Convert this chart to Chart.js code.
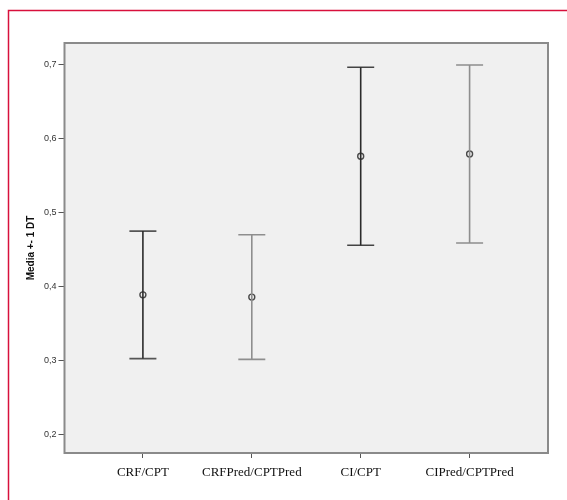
<!DOCTYPE html>
<html>
<head>
<meta charset="utf-8">
<script src="https://cdn.jsdelivr.net/npm/chart.js@4/dist/chart.umd.min.js"></script>
<style>
  html, body { margin: 0; padding: 0; background: #ffffff; }
  #wrap { width: 567px; height: 500px; position: relative; }
</style>
</head>
<body>
<div id="wrap"><canvas id="c" width="567" height="500"></canvas></div>
<script>
// Ratios: mean and one standard deviation per group
const categories = ['CRF/CPT', 'CRFPred/CPTPred', 'CI/CPT', 'CIPred/CPTPred'];
const means = [0.389, 0.386, 0.576, 0.579];
const sds = [0.086, 0.084, 0.120, 0.120];
const yTicks = [0.2, 0.3, 0.4, 0.5, 0.6, 0.7];

const stemColors = ['#2b2b2b', '#8e8e8e', '#2b2b2b', '#8e8e8e'];
const capColors = ['#555555', '#8e8e8e', '#444444', '#8e8e8e'];

const datasets = [];
categories.forEach((name, i) => {
  const x = i + 1;
  const lo = means[i] - sds[i];
  const hi = means[i] + sds[i];
  // vertical whisker
  datasets.push({
    type: 'scatter', showLine: true,
    data: [{ x: x, y: lo }, { x: x, y: hi }],
    borderColor: stemColors[i], borderWidth: 1.6,
    pointRadius: 0, pointHoverRadius: 0
  });
  // horizontal caps
  datasets.push({
    type: 'scatter',
    data: [{ x: x, y: lo }, { x: x, y: hi }],
    pointStyle: 'line', pointRadius: 13.5, pointHoverRadius: 13.5,
    borderColor: capColors[i], borderWidth: 1.6, backgroundColor: capColors[i]
  });
  // mean marker
  datasets.push({
    type: 'scatter',
    data: [{ x: x, y: means[i] }],
    pointStyle: 'circle', pointRadius: 3, pointHoverRadius: 3,
    borderColor: '#4a4a4a', borderWidth: 1.4, backgroundColor: '#f0f0f0'
  });
});

// plot panel background + frame, and the outer page frame
const panelPlugin = {
  id: 'panel',
  beforeDatasetsDraw(chart) {
    const { ctx, chartArea: a } = chart;
    ctx.save();
    ctx.fillStyle = '#f0f0f0';
    ctx.fillRect(a.left, a.top, a.right - a.left, a.bottom - a.top);
    ctx.restore();
  },
  afterDatasetsDraw(chart) {
    const { ctx, chartArea: a } = chart;
    ctx.save();
    ctx.strokeStyle = '#8a8a8a';
    ctx.lineWidth = 2;
    ctx.strokeRect(a.left, a.top, a.right - a.left, a.bottom - a.top);
    ctx.strokeStyle = '#d8103c';
    ctx.lineWidth = 1.5;
    ctx.beginPath();
    ctx.moveTo(8.5, 500);
    ctx.lineTo(8.5, 10.5);
    ctx.lineTo(567, 10.5);
    ctx.stroke();
    ctx.restore();
  }
};

new Chart(document.getElementById('c'), {
  type: 'scatter',
  data: { datasets },
  plugins: [panelPlugin],
  options: {
    responsive: false,
    animation: false,
    layout: { padding: { top: 43, right: 19, left: 0, bottom: 0 } },
    plugins: { legend: { display: false }, tooltip: { enabled: false } },
    scales: {
      x: {
        type: 'linear',
        min: 0.28, max: 4.72,
        afterBuildTicks(s) { s.ticks = categories.map((_, i) => ({ value: i + 1 })); },
        afterFit(s) { s.height = 47; },
        border: { display: false },
        grid: { drawOnChartArea: false, tickLength: 5, color: '#555555', lineWidth: 1 },
        ticks: {
          padding: 7, color: '#111111', maxRotation: 0, autoSkip: false,
          font: { family: '"Liberation Serif", "Times New Roman", serif', size: 13 },
          callback: (v) => categories[Math.round(v) - 1] || ''
        }
      },
      y: {
        type: 'linear',
        min: 0.1757, max: 0.7287,
        afterBuildTicks(s) { s.ticks = yTicks.map(v => ({ value: v })); },
        afterFit(s) { s.width = 64.5; },
        border: { display: false },
        grid: { drawOnChartArea: false, tickLength: 6, color: '#555555', lineWidth: 1 },
        ticks: {
          padding: 2, color: '#333333',
          font: { family: 'Arial, "Liberation Sans", sans-serif', size: 9 },
          callback: (v) => v.toFixed(1).replace('.', ',')
        },
        title: {
          display: true, text: 'Media +- 1 DT', color: '#111111',
          font: { family: 'Arial, "Liberation Sans", sans-serif', size: 10, weight: 'bold' },
          padding: { top: 25, bottom: 0 }
        }
      }
    }
  }
});
</script>
</body>
</html>
